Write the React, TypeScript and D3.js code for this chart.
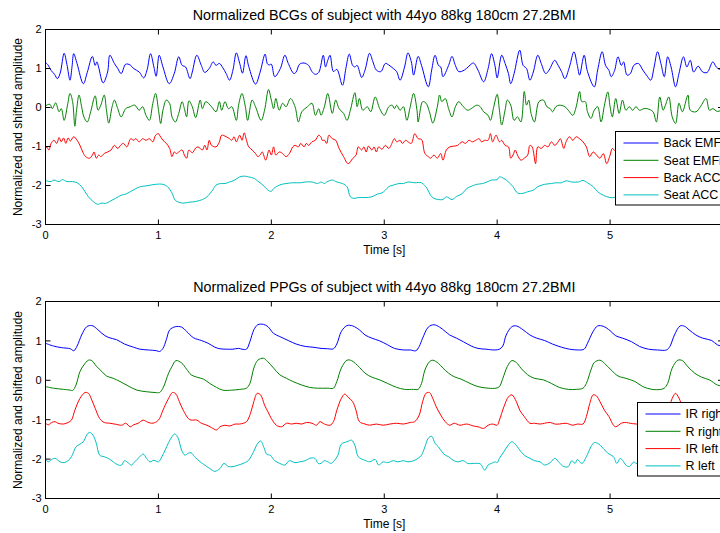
import React from 'react';
import * as d3 from 'd3';

type Pt = [number, number];

const bcgTitle = 'Normalized BCGs of subject with 44yo 88kg 180cm 27.2BMI';
const ppgTitle = 'Normalized PPGs of subject with 44yo 88kg 180cm 27.2BMI';
const xLabel = 'Time [s]';
const yLabel = 'Normalized and shifted amplitude';
const xTicks = [0, 1, 2, 3, 4, 5, 6];
const xTickLabels = ['0', '1', '2', '3', '4', '5', ''];
const yTicks = [2, 1, 0, -1, -2, -3];
const bcgLabels = ['Back EMFi', 'Seat EMFi', 'Back ACC', 'Seat ACC'];
const ppgLabels = ['IR right', 'R right', 'IR left', 'R left'];
const seriesColors = ['#0000ff', '#008000', '#ff0000', '#00bfbf'];

const bcgBackEmfi: Pt[] = [[0,1.15],[0.02,1.10],[0.05,0.95],[0.08,0.85],[0.105,0.74],[0.13,0.88],[0.165,1.39],[0.19,1.10],[0.217,0.70],[0.235,1.05],[0.25,1.38],[0.28,1.12],[0.335,0.61],[0.37,0.90],[0.415,1.31],[0.44,1.08],[0.455,1.17],[0.47,1.04],[0.51,0.63],[0.55,0.91],[0.57,1.34],[0.61,1.13],[0.64,1.0],[0.67,0.87],[0.71,1.11],[0.75,1.09],[0.78,1.0],[0.83,0.91],[0.87,0.76],[0.90,0.97],[0.93,1.38],[0.96,1.04],[0.98,0.80],[1.007,1.34],[1.04,1.04],[1.096,0.61],[1.14,0.87],[1.18,1.30],[1.21,1.08],[1.24,1.04],[1.28,0.74],[1.30,0.91],[1.34,1.34],[1.38,1.08],[1.41,0.90],[1.45,1.0],[1.485,1.17],[1.51,1.08],[1.54,1.13],[1.57,1.02],[1.60,0.87],[1.63,0.70],[1.66,0.96],[1.69,1.40],[1.72,1.13],[1.745,0.88],[1.775,1.33],[1.80,1.05],[1.86,0.60],[1.90,0.90],[1.945,1.37],[1.965,1.12],[1.98,1.09],[2.0,1.11],[2.03,0.79],[2.08,1.0],[2.12,1.34],[2.15,1.13],[2.20,0.87],[2.22,0.91],[2.25,1.11],[2.29,1.14],[2.33,1.08],[2.36,0.92],[2.39,0.85],[2.42,0.90],[2.46,1.34],[2.48,1.04],[2.50,1.21],[2.52,1.34],[2.55,0.92],[2.58,0.98],[2.63,0.57],[2.66,1.0],[2.69,1.37],[2.72,1.08],[2.74,1.04],[2.76,1.08],[2.80,0.77],[2.83,0.96],[2.87,1.39],[2.90,1.17],[2.93,0.96],[2.97,0.92],[3.01,1.13],[3.04,1.09],[3.08,1.0],[3.11,0.92],[3.14,0.70],[3.18,1.04],[3.21,1.40],[3.24,1.17],[3.26,0.83],[3.30,1.31],[3.33,1.08],[3.39,0.53],[3.42,0.96],[3.45,1.34],[3.48,1.08],[3.50,1.04],[3.52,0.79],[3.57,1.08],[3.60,1.31],[3.63,1.08],[3.66,0.92],[3.71,0.96],[3.75,1.06],[3.79,1.14],[3.83,0.96],[3.88,0.66],[3.92,1.0],[3.95,1.38],[3.98,1.08],[4.0,0.76],[4.04,1.34],[4.07,1.13],[4.10,0.87],[4.12,0.61],[4.15,0.87],[4.20,1.47],[4.23,1.08],[4.26,1.0],[4.29,0.70],[4.32,0.91],[4.36,1.34],[4.39,1.13],[4.43,0.87],[4.46,0.96],[4.51,1.21],[4.54,1.08],[4.57,0.92],[4.60,0.74],[4.64,1.04],[4.68,1.43],[4.71,1.08],[4.73,0.83],[4.77,1.34],[4.80,0.92],[4.86,0.53],[4.89,0.96],[4.93,1.43],[4.96,1.08],[4.99,0.95],[5.01,0.79],[5.04,0.95],[5.07,1.30],[5.10,1.08],[5.12,1.17],[5.15,0.83],[5.18,0.87],[5.21,1.08],[5.25,1.13],[5.29,0.96],[5.33,0.80],[5.36,0.70],[5.39,1.04],[5.42,1.43],[5.45,1.13],[5.48,0.79],[5.51,1.30],[5.54,1.04],[5.58,0.53],[5.61,0.87],[5.65,1.30],[5.68,1.04],[5.71,1.21],[5.74,0.91],[5.78,1.06],[5.82,0.91],[5.86,0.90],[5.91,1.17],[5.94,1.04],[5.97,0.98],[6.0,1.0]];

const bcgSeatEmfi: Pt[] = [[0,0.03],[0.01,0.06],[0.04,0.08],[0.06,-0.03],[0.09,0.12],[0.12,-0.11],[0.14,-0.03],[0.165,-0.33],[0.195,0.06],[0.217,0.36],[0.24,0.15],[0.26,-0.48],[0.275,-0.07],[0.297,0.32],[0.32,0.02],[0.34,-0.24],[0.37,-0.37],[0.40,-0.11],[0.44,0.30],[0.465,-0.07],[0.49,0.06],[0.52,0.32],[0.54,-0.07],[0.56,-0.40],[0.59,0.02],[0.61,0.19],[0.64,-0.03],[0.67,-0.24],[0.71,-0.03],[0.75,0.02],[0.79,0.06],[0.83,-0.07],[0.86,0.02],[0.89,-0.20],[0.92,-0.33],[0.95,0.10],[0.975,0.36],[1.0,-0.05],[1.02,-0.41],[1.04,-0.07],[1.07,0.19],[1.10,0.10],[1.12,-0.24],[1.15,-0.37],[1.18,-0.15],[1.21,0.15],[1.23,-0.03],[1.25,-0.24],[1.27,0.17],[1.30,0.02],[1.33,-0.26],[1.37,0.19],[1.39,-0.03],[1.42,0.15],[1.47,0.02],[1.51,-0.11],[1.54,0.15],[1.56,-0.07],[1.59,0.15],[1.62,-0.03],[1.65,0.02],[1.69,-0.33],[1.71,0.06],[1.74,0.36],[1.77,0.02],[1.79,-0.33],[1.83,0.19],[1.86,0.02],[1.91,-0.33],[1.94,-0.07],[1.975,0.46],[2.0,0.19],[2.02,-0.03],[2.04,0.23],[2.07,-0.07],[2.10,0.11],[2.13,0.02],[2.17,0.23],[2.21,0.02],[2.24,-0.37],[2.27,-0.11],[2.32,0.02],[2.36,0.11],[2.39,-0.20],[2.42,-0.03],[2.44,-0.20],[2.47,0.02],[2.50,0.36],[2.54,-0.15],[2.57,0.19],[2.60,-0.03],[2.64,-0.15],[2.67,-0.33],[2.70,-0.07],[2.74,0.38],[2.76,0.02],[2.78,0.23],[2.81,-0.07],[2.85,0.02],[2.88,-0.11],[2.92,0.27],[2.96,-0.03],[3.0,-0.20],[3.04,0.02],[3.07,0.06],[3.09,-0.03],[3.11,0.06],[3.14,-0.07],[3.17,0.02],[3.20,-0.33],[3.23,0.02],[3.26,0.36],[3.29,-0.07],[3.30,-0.37],[3.34,0.15],[3.37,0.11],[3.40,-0.11],[3.43,-0.40],[3.47,0.02],[3.49,0.32],[3.51,0.15],[3.54,0.23],[3.57,-0.03],[3.60,-0.24],[3.63,0.02],[3.66,0.15],[3.70,0.02],[3.74,-0.07],[3.77,-0.03],[3.82,0.06],[3.85,0.02],[3.88,-0.11],[3.92,-0.20],[3.94,-0.33],[3.97,0.02],[4.0,0.34],[4.02,-0.07],[4.04,-0.45],[4.07,-0.07],[4.09,0.19],[4.12,0.06],[4.15,-0.33],[4.18,-0.24],[4.21,-0.37],[4.24,0.41],[4.26,0.06],[4.28,0.19],[4.30,-0.15],[4.33,-0.37],[4.37,0.15],[4.41,0.19],[4.44,0.02],[4.47,-0.03],[4.49,-0.11],[4.52,0.02],[4.55,0.06],[4.60,0.02],[4.63,-0.07],[4.67,-0.20],[4.70,0.02],[4.73,0.41],[4.75,0.15],[4.78,0.15],[4.80,-0.11],[4.83,-0.28],[4.86,-0.07],[4.89,0.02],[4.92,-0.37],[4.95,0.06],[4.98,0.40],[5.0,0.02],[5.02,-0.24],[5.05,0.23],[5.08,-0.15],[5.11,0.19],[5.14,-0.07],[5.17,0.02],[5.20,-0.07],[5.23,0.02],[5.26,-0.07],[5.30,-0.03],[5.33,-0.03],[5.38,-0.11],[5.41,-0.37],[5.44,0.27],[5.47,-0.07],[5.49,0.06],[5.52,0.27],[5.55,-0.24],[5.58,-0.41],[5.61,0.11],[5.64,-0.11],[5.69,0.32],[5.71,-0.07],[5.76,-0.11],[5.80,0.02],[5.85,0.23],[5.88,-0.07],[5.91,-0.03],[5.95,-0.10],[6.0,-0.05]];

const bcgBackAcc: Pt[] = [[0,-1.05],[0.01,-1.01],[0.03,-1.09],[0.05,-0.92],[0.075,-0.84],[0.10,-0.92],[0.12,-0.77],[0.14,-0.88],[0.16,-0.78],[0.18,-0.92],[0.20,-0.78],[0.22,-0.86],[0.25,-0.75],[0.28,-0.84],[0.305,-0.97],[0.33,-1.14],[0.355,-1.26],[0.39,-1.30],[0.415,-1.22],[0.43,-1.14],[0.45,-1.30],[0.47,-1.22],[0.49,-1.26],[0.52,-1.18],[0.55,-1.14],[0.58,-1.09],[0.61,-0.97],[0.64,-1.05],[0.665,-0.97],[0.69,-0.92],[0.72,-1.01],[0.755,-0.80],[0.78,-0.84],[0.80,-0.80],[0.83,-0.88],[0.86,-0.80],[0.89,-0.84],[0.92,-0.80],[0.95,-0.88],[0.975,-0.71],[1.0,-0.67],[1.01,-0.71],[1.04,-0.84],[1.07,-0.92],[1.10,-1.05],[1.12,-1.26],[1.14,-1.14],[1.16,-1.18],[1.18,-1.14],[1.21,-1.09],[1.23,-1.22],[1.25,-1.30],[1.27,-1.09],[1.30,-1.16],[1.33,-1.04],[1.35,-1.01],[1.37,-1.05],[1.39,-1.09],[1.41,-0.97],[1.43,-1.09],[1.45,-0.84],[1.47,-0.97],[1.51,-1.01],[1.54,-0.88],[1.56,-0.71],[1.60,-0.75],[1.63,-0.80],[1.65,-0.84],[1.67,-0.75],[1.69,-0.88],[1.72,-0.71],[1.74,-0.84],[1.76,-0.65],[1.78,-0.84],[1.80,-1.01],[1.83,-1.09],[1.86,-1.18],[1.88,-1.26],[1.90,-1.22],[1.92,-1.14],[1.95,-1.35],[1.98,-1.09],[2.0,-1.22],[2.02,-1.01],[2.04,-1.22],[2.07,-1.14],[2.10,-1.18],[2.13,-1.26],[2.16,-1.18],[2.19,-1.01],[2.21,-0.97],[2.24,-1.01],[2.26,-0.92],[2.29,-1.01],[2.31,-0.92],[2.33,-0.97],[2.36,-0.88],[2.39,-0.84],[2.42,-0.71],[2.44,-0.76],[2.45,-0.84],[2.47,-0.84],[2.49,-0.92],[2.51,-0.71],[2.54,-0.80],[2.57,-0.84],[2.60,-1.05],[2.64,-1.26],[2.68,-1.44],[2.72,-1.31],[2.75,-1.22],[2.77,-1.01],[2.80,-1.09],[2.82,-1.01],[2.84,-1.14],[2.86,-0.99],[2.89,-1.09],[2.91,-1.01],[2.93,-1.14],[2.95,-1.01],[2.98,-1.07],[3.01,-0.97],[3.04,-1.05],[3.06,-0.97],[3.09,-0.80],[3.11,-0.88],[3.14,-0.84],[3.16,-0.92],[3.19,-0.84],[3.21,-0.88],[3.24,-0.92],[3.27,-0.67],[3.30,-0.80],[3.33,-0.82],[3.36,-1.18],[3.39,-1.26],[3.41,-1.30],[3.44,-1.22],[3.47,-1.30],[3.50,-1.18],[3.52,-1.35],[3.55,-1.09],[3.58,-1.01],[3.62,-0.99],[3.65,-0.97],[3.69,-0.88],[3.72,-0.92],[3.75,-0.84],[3.78,-0.88],[3.81,-0.84],[3.84,-0.80],[3.86,-0.88],[3.89,-0.84],[3.92,-0.84],[3.94,-0.67],[3.96,-0.88],[3.99,-0.71],[4.02,-0.88],[4.04,-0.84],[4.07,-0.97],[4.10,-1.01],[4.12,-1.30],[4.14,-1.22],[4.16,-1.09],[4.18,-1.22],[4.21,-1.35],[4.24,-1.30],[4.27,-1.22],[4.29,-0.97],[4.31,-1.01],[4.34,-1.44],[4.36,-1.01],[4.39,-1.05],[4.42,-0.97],[4.45,-1.01],[4.48,-0.88],[4.51,-0.97],[4.54,-0.88],[4.56,-0.80],[4.59,-1.05],[4.61,-0.88],[4.64,-0.75],[4.67,-0.84],[4.70,-0.75],[4.73,-0.80],[4.76,-0.88],[4.79,-1.01],[4.82,-1.26],[4.85,-1.14],[4.88,-1.22],[4.91,-1.30],[4.94,-1.18],[4.97,-1.44],[5.0,-1.22],[5.02,-1.05],[5.05,-1.12],[5.10,-0.95],[5.15,-1.0],[5.20,-0.90],[5.25,-0.95],[5.30,-0.80],[5.35,-0.75],[5.39,-0.62],[5.42,-0.85],[5.47,-1.05],[5.52,-1.20],[5.58,-1.15],[5.64,-1.00],[5.70,-0.95],[5.76,-0.90],[5.82,-1.05],[5.88,-1.10],[5.94,-1.0],[6.0,-0.95]];

const bcgSeatAcc: Pt[] = [[0,-1.87],[0.01,-1.88],[0.05,-1.90],[0.075,-1.86],[0.12,-1.90],[0.15,-1.85],[0.19,-1.90],[0.24,-1.90],[0.28,-1.93],[0.32,-2.03],[0.35,-2.16],[0.38,-2.29],[0.415,-2.39],[0.46,-2.48],[0.50,-2.45],[0.53,-2.46],[0.58,-2.39],[0.62,-2.33],[0.67,-2.25],[0.71,-2.22],[0.75,-2.16],[0.80,-2.08],[0.84,-2.03],[0.89,-2.01],[0.93,-1.99],[0.975,-1.97],[1.04,-1.97],[1.08,-2.03],[1.12,-2.19],[1.15,-2.38],[1.21,-2.45],[1.27,-2.43],[1.33,-2.41],[1.39,-2.36],[1.43,-2.29],[1.48,-2.12],[1.51,-1.99],[1.55,-1.95],[1.59,-1.95],[1.63,-1.91],[1.67,-1.87],[1.72,-1.78],[1.76,-1.76],[1.80,-1.78],[1.85,-1.82],[1.88,-1.89],[1.91,-1.95],[1.94,-2.03],[1.97,-2.12],[2.0,-2.15],[2.02,-2.08],[2.07,-1.99],[2.13,-1.95],[2.19,-1.93],[2.26,-1.93],[2.30,-1.91],[2.36,-1.91],[2.41,-1.95],[2.44,-1.91],[2.47,-1.95],[2.49,-1.91],[2.54,-1.86],[2.58,-1.91],[2.63,-1.95],[2.67,-2.03],[2.70,-2.29],[2.73,-2.33],[2.77,-2.31],[2.83,-2.31],[2.89,-2.29],[2.94,-2.22],[2.98,-2.19],[3.01,-2.12],[3.04,-2.03],[3.08,-1.99],[3.13,-1.95],[3.17,-1.95],[3.21,-1.91],[3.27,-1.93],[3.33,-1.93],[3.38,-2.08],[3.41,-2.25],[3.44,-2.33],[3.48,-2.36],[3.52,-2.36],[3.55,-2.29],[3.60,-2.36],[3.64,-2.28],[3.69,-2.21],[3.73,-2.08],[3.78,-2.01],[3.82,-1.97],[3.87,-1.95],[3.91,-1.91],[3.95,-1.86],[4.0,-1.85],[4.02,-1.78],[4.06,-1.82],[4.10,-1.91],[4.14,-2.03],[4.18,-2.19],[4.23,-2.20],[4.27,-2.16],[4.32,-2.12],[4.36,-2.03],[4.42,-1.97],[4.48,-1.95],[4.52,-1.93],[4.57,-1.93],[4.61,-1.88],[4.66,-1.91],[4.72,-1.91],[4.76,-1.87],[4.80,-1.93],[4.85,-2.03],[4.89,-2.16],[4.94,-2.25],[5.0,-2.31],[5.05,-2.30],[5.15,-2.20],[5.25,-2.05],[5.35,-1.95],[5.45,-1.92],[5.55,-1.95],[5.65,-2.10],[5.75,-2.25],[5.85,-2.30],[5.95,-2.25],[6.0,-2.2]];

const ppgIrRight: Pt[] = [[0,0.94],[0.07,0.87],[0.14,0.83],[0.22,0.80],[0.25,0.75],[0.28,0.87],[0.32,1.15],[0.365,1.36],[0.41,1.39],[0.45,1.32],[0.50,1.19],[0.555,1.09],[0.63,1.03],[0.70,0.92],[0.78,0.84],[0.835,0.79],[0.91,0.77],[0.985,0.75],[1.01,0.73],[1.04,0.81],[1.07,1.03],[1.10,1.28],[1.15,1.36],[1.205,1.35],[1.25,1.24],[1.31,1.08],[1.38,1.01],[1.44,0.94],[1.50,0.84],[1.545,0.80],[1.60,0.79],[1.66,0.79],[1.71,0.81],[1.74,0.79],[1.78,0.79],[1.81,0.98],[1.845,1.28],[1.88,1.41],[1.93,1.42],[1.97,1.36],[2.02,1.19],[2.075,1.11],[2.15,1.01],[2.22,0.92],[2.30,0.86],[2.37,0.84],[2.44,0.81],[2.50,0.80],[2.55,0.80],[2.58,0.92],[2.62,1.24],[2.67,1.39],[2.72,1.38],[2.78,1.28],[2.83,1.15],[2.89,1.07],[2.96,1.0],[3.03,0.90],[3.09,0.81],[3.17,0.77],[3.23,0.77],[3.28,0.75],[3.31,0.86],[3.34,1.07],[3.39,1.35],[3.44,1.41],[3.49,1.35],[3.54,1.24],[3.58,1.15],[3.64,1.07],[3.70,0.98],[3.77,0.87],[3.83,0.81],[3.90,0.79],[3.98,0.77],[4.02,0.79],[4.05,0.87],[4.08,1.15],[4.13,1.36],[4.17,1.38],[4.23,1.28],[4.29,1.15],[4.35,1.07],[4.42,1.01],[4.49,0.92],[4.57,0.84],[4.64,0.79],[4.73,0.77],[4.77,0.79],[4.80,0.94],[4.85,1.24],[4.89,1.38],[4.94,1.37],[5.0,1.26],[5.05,1.13],[5.11,1.07],[5.19,0.98],[5.26,0.86],[5.34,0.79],[5.42,0.77],[5.50,0.77],[5.53,0.86],[5.57,1.15],[5.62,1.38],[5.66,1.37],[5.70,1.28],[5.76,1.15],[5.82,1.07],[5.90,1.01],[5.95,0.90],[6.0,0.86]];

const ppgRRight: Pt[] = [[0,-0.16],[0.07,-0.20],[0.16,-0.23],[0.22,-0.25],[0.24,-0.26],[0.27,-0.12],[0.305,0.22],[0.34,0.39],[0.38,0.51],[0.41,0.50],[0.45,0.36],[0.50,0.22],[0.54,0.11],[0.60,0.05],[0.66,-0.03],[0.73,-0.14],[0.81,-0.25],[0.895,-0.29],[0.97,-0.31],[1.01,-0.31],[1.04,-0.20],[1.09,0.18],[1.12,0.35],[1.155,0.50],[1.205,0.44],[1.25,0.28],[1.29,0.14],[1.34,0.08],[1.40,0.03],[1.455,-0.08],[1.515,-0.18],[1.57,-0.25],[1.65,-0.25],[1.72,-0.23],[1.78,-0.20],[1.81,-0.08],[1.845,0.31],[1.88,0.51],[1.93,0.56],[1.97,0.47],[2.02,0.31],[2.075,0.14],[2.135,0.05],[2.19,-0.03],[2.27,-0.12],[2.34,-0.18],[2.41,-0.20],[2.50,-0.20],[2.55,-0.20],[2.58,-0.03],[2.62,0.31],[2.67,0.51],[2.71,0.50],[2.78,0.33],[2.83,0.18],[2.89,0.08],[2.96,0.01],[3.03,-0.08],[3.11,-0.18],[3.18,-0.23],[3.26,-0.23],[3.30,-0.23],[3.33,-0.08],[3.36,0.26],[3.40,0.47],[3.43,0.51],[3.48,0.43],[3.52,0.31],[3.57,0.18],[3.62,0.09],[3.68,0.03],[3.76,-0.08],[3.83,-0.16],[3.92,-0.20],[3.99,-0.20],[4.02,-0.16],[4.05,0.05],[4.09,0.35],[4.13,0.50],[4.17,0.45],[4.21,0.31],[4.27,0.14],[4.33,0.05],[4.41,0.01],[4.48,-0.08],[4.55,-0.18],[4.63,-0.23],[4.70,-0.23],[4.76,-0.20],[4.79,-0.08],[4.83,0.26],[4.86,0.45],[4.91,0.51],[4.95,0.43],[5.01,0.26],[5.07,0.11],[5.14,0.05],[5.22,-0.03],[5.29,-0.16],[5.37,-0.23],[5.45,-0.23],[5.48,-0.20],[5.51,-0.08],[5.55,0.31],[5.60,0.51],[5.64,0.50],[5.69,0.34],[5.75,0.18],[5.81,0.08],[5.88,0.01],[5.95,-0.12],[6.0,-0.15]];

const ppgIrLeft: Pt[] = [[0,-1.09],[0.025,-1.13],[0.055,-1.07],[0.085,-1.05],[0.11,-1.09],[0.16,-1.11],[0.20,-1.07],[0.23,-1.01],[0.26,-0.76],[0.305,-0.46],[0.35,-0.31],[0.38,-0.33],[0.41,-0.50],[0.44,-0.71],[0.48,-0.97],[0.52,-1.07],[0.57,-1.09],[0.63,-1.12],[0.675,-1.14],[0.71,-1.09],[0.75,-1.18],[0.78,-1.13],[0.82,-1.09],[0.865,-1.01],[0.895,-1.05],[0.94,-1.09],[0.985,-1.05],[1.01,-0.97],[1.04,-0.76],[1.09,-0.46],[1.125,-0.31],[1.155,-0.35],[1.185,-0.54],[1.22,-0.76],[1.265,-0.97],[1.29,-1.01],[1.34,-1.01],[1.38,-1.09],[1.43,-1.14],[1.47,-1.20],[1.515,-1.26],[1.545,-1.18],[1.59,-1.14],[1.63,-1.16],[1.68,-1.11],[1.72,-1.11],[1.78,-1.05],[1.815,-0.84],[1.845,-0.54],[1.875,-0.33],[1.905,-0.37],[1.94,-0.63],[1.97,-0.80],[2.0,-0.97],[2.045,-1.14],[2.09,-1.18],[2.135,-1.09],[2.18,-1.11],[2.22,-1.09],[2.27,-1.11],[2.31,-1.07],[2.36,-1.09],[2.40,-1.14],[2.43,-1.05],[2.47,-1.11],[2.52,-1.14],[2.55,-1.05],[2.58,-0.76],[2.62,-0.46],[2.65,-0.35],[2.68,-0.43],[2.72,-0.54],[2.75,-0.76],[2.78,-1.05],[2.83,-1.11],[2.87,-1.14],[2.93,-1.11],[2.99,-1.14],[3.05,-1.11],[3.11,-1.09],[3.17,-1.11],[3.23,-1.07],[3.27,-1.05],[3.31,-0.88],[3.34,-0.54],[3.37,-0.33],[3.40,-0.31],[3.43,-0.46],[3.46,-0.67],[3.50,-0.88],[3.54,-1.05],[3.58,-1.14],[3.62,-1.09],[3.67,-1.14],[3.73,-1.11],[3.79,-1.16],[3.83,-1.18],[3.88,-1.22],[3.92,-1.14],[3.96,-1.11],[4.0,-1.14],[4.02,-1.01],[4.06,-0.67],[4.10,-0.42],[4.13,-0.37],[4.17,-0.54],[4.20,-0.76],[4.24,-0.92],[4.29,-1.09],[4.33,-1.09],[4.38,-1.11],[4.42,-1.09],[4.47,-1.07],[4.51,-1.11],[4.55,-1.11],[4.61,-1.09],[4.67,-1.14],[4.71,-1.11],[4.76,-1.11],[4.79,-0.92],[4.82,-0.59],[4.85,-0.37],[4.88,-0.40],[4.91,-0.54],[4.95,-0.76],[4.99,-0.92],[5.03,-1.14],[5.05,-1.18],[5.10,-1.09],[5.13,-1.07],[5.20,-1.10],[5.30,-1.12],[5.40,-1.10],[5.48,-1.05],[5.52,-0.70],[5.56,-0.40],[5.58,-0.33],[5.61,-0.45],[5.65,-0.75],[5.70,-1.0],[5.76,-1.10],[5.85,-1.12],[5.95,-1.10],[6.0,-1.08]];

const ppgRLeft: Pt[] = [[0,-2.01],[0.025,-2.07],[0.055,-2.01],[0.085,-1.98],[0.13,-2.07],[0.165,-2.09],[0.20,-2.04],[0.23,-1.94],[0.27,-1.69],[0.305,-1.62],[0.335,-1.56],[0.365,-1.39],[0.39,-1.32],[0.42,-1.39],[0.45,-1.60],[0.48,-1.90],[0.52,-1.94],[0.555,-1.98],[0.60,-2.07],[0.645,-2.15],[0.675,-2.15],[0.70,-2.04],[0.73,-2.09],[0.76,-2.15],[0.79,-2.07],[0.835,-1.94],[0.865,-1.87],[0.895,-1.98],[0.925,-2.07],[0.96,-2.03],[1.0,-2.07],[1.03,-1.94],[1.06,-1.77],[1.09,-1.58],[1.12,-1.43],[1.145,-1.36],[1.175,-1.47],[1.205,-1.77],[1.235,-1.90],[1.265,-1.85],[1.29,-1.84],[1.32,-1.94],[1.37,-2.07],[1.41,-2.15],[1.455,-2.24],[1.50,-2.31],[1.545,-2.24],[1.58,-2.11],[1.62,-2.19],[1.66,-2.19],[1.71,-2.15],[1.75,-2.11],[1.795,-2.04],[1.84,-1.83],[1.875,-1.62],[1.905,-1.54],[1.935,-1.71],[1.96,-1.88],[1.99,-1.90],[2.03,-2.04],[2.075,-2.11],[2.12,-2.15],[2.16,-2.04],[2.21,-2.09],[2.25,-2.07],[2.30,-2.04],[2.34,-1.98],[2.385,-1.98],[2.415,-2.11],[2.44,-2.11],[2.47,-2.04],[2.50,-2.07],[2.53,-2.11],[2.56,-2.03],[2.59,-1.90],[2.62,-1.62],[2.67,-1.56],[2.71,-1.52],[2.74,-1.65],[2.77,-1.94],[2.83,-2.03],[2.87,-2.07],[2.92,-2.01],[2.95,-2.15],[2.99,-2.07],[3.03,-2.09],[3.08,-2.04],[3.12,-2.07],[3.17,-2.04],[3.21,-2.07],[3.26,-2.04],[3.30,-1.98],[3.33,-1.90],[3.36,-1.69],[3.39,-1.47],[3.42,-1.42],[3.45,-1.60],[3.48,-1.69],[3.51,-1.81],[3.54,-1.90],[3.57,-1.94],[3.61,-2.03],[3.65,-2.07],[3.70,-2.04],[3.74,-2.11],[3.80,-2.11],[3.85,-2.12],[3.89,-2.28],[3.92,-2.15],[3.95,-2.11],[3.98,-2.07],[4.0,-2.09],[4.02,-1.98],[4.06,-1.81],[4.10,-1.64],[4.13,-1.56],[4.16,-1.62],[4.20,-1.77],[4.24,-1.90],[4.29,-1.98],[4.33,-2.04],[4.38,-2.07],[4.42,-2.15],[4.47,-2.09],[4.51,-1.98],[4.55,-2.09],[4.59,-2.19],[4.63,-2.19],[4.66,-2.04],[4.69,-2.11],[4.71,-2.01],[4.75,-2.11],[4.79,-1.94],[4.83,-1.69],[4.86,-1.58],[4.89,-1.60],[4.94,-1.73],[4.98,-1.85],[5.03,-1.94],[5.06,-2.11],[5.09,-1.98],[5.11,-2.03],[5.14,-2.15],[5.17,-2.19],[5.21,-2.07],[5.23,-2.11],[5.30,-2.05],[5.40,-2.08],[5.50,-2.00],[5.56,-1.70],[5.60,-1.50],[5.65,-1.60],[5.72,-1.85],[5.80,-2.00],[5.90,-2.08],[6.0,-2.05]];

const FONT = '"Liberation Sans", Arial, Helvetica, sans-serif';

interface PanelProps {
  id: string;
  title: string;
  series: Pt[][];
  labels: string[];
  top: number;
  bottom: number;
  legendX: number;
  legendY: number;
}

function Panel({ id, title, series, labels, top, bottom, legendX, legendY }: PanelProps) {
  const left = 45.5;
  const right = 723;
  const x = d3.scaleLinear().domain([0, 6]).range([left, right]);
  const y = d3.scaleLinear().domain([-3, 2]).range([bottom, top]);
  const line = d3.line<Pt>().x(d => x(d[0])).y(d => y(d[1])).curve(d3.curveCatmullRom.alpha(0.5));
  const tickLen = 5;
  const midX = (left + right) / 2;
  const midY = (top + bottom) / 2;
  const legW = 130;
  const legH = 73.5;
  return (
    <g>
      <defs>
        <clipPath id={`clip-${id}`}>
          <rect x={left} y={top} width={right - left} height={bottom - top} />
        </clipPath>
      </defs>
      <rect x={left} y={top} width={right - left} height={bottom - top} fill="#fff" />
      <g clipPath={`url(#clip-${id})`}>
        {series.map((s, i) => (
          <path key={i} d={line(s) || ''} fill="none" stroke={seriesColors[i]} strokeWidth={1} strokeLinejoin="round" />
        ))}
      </g>
      <rect x={left} y={top} width={right - left} height={bottom - top} fill="none" stroke="#000" strokeWidth={1} />
      {xTicks.map((t, i) => (
        <g key={`xt${t}`}>
          <line x1={x(t)} x2={x(t)} y1={bottom} y2={bottom - tickLen} stroke="#000" />
          <line x1={x(t)} x2={x(t)} y1={top} y2={top + tickLen} stroke="#000" />
          {xTickLabels[i] !== '' && (
            <text x={x(t)} y={bottom + 14} textAnchor="middle" fontSize={11} fontFamily={FONT} fill="#000">{xTickLabels[i]}</text>
          )}
        </g>
      ))}
      {yTicks.map(t => (
        <g key={`yt${t}`}>
          <line x1={left} x2={left + tickLen} y1={y(t)} y2={y(t)} stroke="#000" />
          <line x1={right} x2={right - tickLen} y1={y(t)} y2={y(t)} stroke="#000" />
          <text x={left - 4} y={y(t)} dy="0.35em" textAnchor="end" fontSize={11} fontFamily={FONT} fill="#000">{t}</text>
        </g>
      ))}
      <text x={midX} y={top - 10} textAnchor="middle" fontSize={14.3} fontFamily={FONT} fill="#000">{title}</text>
      <text x={midX} y={bottom + 29} textAnchor="middle" fontSize={12} fontFamily={FONT} fill="#000">{xLabel}</text>
      <text transform={`translate(${22},${midY}) rotate(-90)`} textAnchor="middle" fontSize={12} fontFamily={FONT} fill="#000">{yLabel}</text>
      <g transform={`translate(${legendX},${legendY})`}>
        <rect x={0} y={0} width={legW} height={legH} fill="#fff" stroke="#000" strokeWidth={1} />
        {labels.map((lab, i) => {
          const ry = 11.5 + i * 17.3;
          return (
            <g key={lab}>
              <line x1={8} x2={43} y1={ry} y2={ry} stroke={seriesColors[i]} strokeWidth={1} />
              <text x={48} y={ry} dy="0.35em" fontSize={12.5} fontFamily={FONT} fill="#000">{lab}</text>
            </g>
          );
        })}
      </g>
    </g>
  );
}

export default function App() {
  return (
    <svg width={720} height={533} style={{ position: 'absolute', left: 0, top: 0, background: '#fff' }}>
      <rect x={0} y={0} width={720} height={533} fill="#fff" />
      <Panel id="bcg" title={bcgTitle} series={[bcgBackEmfi, bcgSeatEmfi, bcgBackAcc, bcgSeatAcc]} labels={bcgLabels} top={29.5} bottom={224.5} legendX={615.5} legendY={131.5} />
      <Panel id="ppg" title={ppgTitle} series={[ppgIrRight, ppgRRight, ppgIrLeft, ppgRLeft]} labels={ppgLabels} top={301.5} bottom={498.5} legendX={637.5} legendY={402.5} />
    </svg>
  );
}
